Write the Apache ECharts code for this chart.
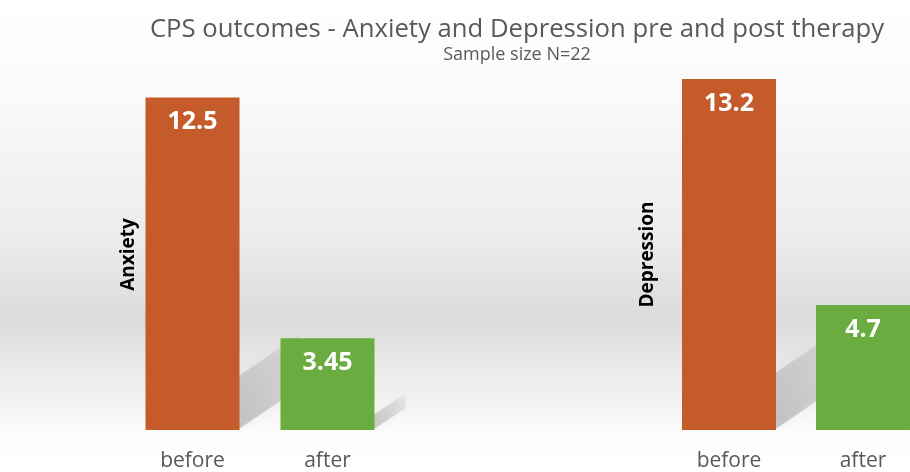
<!DOCTYPE html>
<html>
<head>
<meta charset="utf-8">
<script src="https://cdn.jsdelivr.net/npm/echarts@6/dist/echarts.min.js"></script>
<style>html,body{margin:0;padding:0;background:#fff}#c{width:910px;height:472px}</style>
</head>
<body>
<div id="c"></div>
<script>
const categories = ['before', 'after'];
const groups = ['Anxiety', 'Depression'];
const anxiety = [12.5, 3.45];
const depression = [13.2, 4.7];
const barColors = ['#C55A2A', '#6BAC40'];
const BAR_W = 94;

const chart = echarts.init(document.getElementById('c'));

function mkData(vals) {
  return vals.map((v, i) => ({ value: v, itemStyle: { color: barColors[i] } }));
}

// perspective shadow behind each bar, derived from the bar's own scaled position
function shadowItem(params, api) {
  const idx = api.value(0), v = api.value(1);
  const base = api.coord([idx, 0]);
  const top = api.coord([idx, v]);
  const h = base[1] - top[1];
  const xr = base[0] + BAR_W / 2;
  const yb = base[1];
  const L = 0.12 * h + 20, rise = 0.7 * L, hh = 0.16 * h;
  return {
    type: 'polygon',
    shape: { points: [[xr - 2, yb], [xr - 2, yb - hh], [xr + L, yb - hh - rise], [xr + L, yb - rise]] },
    style: {
      fill: {
        type: 'linear', x: 0, y: 1, x2: 1, y2: 0,
        colorStops: [
          { offset: 0, color: 'rgba(80,80,80,0.30)' },
          { offset: 1, color: 'rgba(80,80,80,0.06)' }
        ]
      },
      shadowBlur: 10, shadowColor: 'rgba(90,90,90,0.25)'
    }
  };
}

const grids = [
  { left: 192.5, width: 135, top: 79, height: 352 },
  { left: 729, width: 134, top: 79, height: 352 }
];
const nameGaps = [54, 72];

const option = {
  backgroundColor: {
    type: 'linear', x: 0, y: 0, x2: 0, y2: 1,
    colorStops: [
      { offset: 0, color: '#ffffff' },
      { offset: 0.2, color: '#fafafa' },
      { offset: 0.5, color: '#ececec' },
      { offset: 0.68, color: '#dbdbdb' },
      { offset: 0.8, color: '#ececec' },
      { offset: 0.92, color: '#fdfdfd' },
      { offset: 1, color: '#ffffff' }
    ]
  },
  title: {
    text: 'CPS outcomes - Anxiety and Depression pre and post therapy',
    subtext: 'Sample size N=22',
    left: 512, textAlign: 'center', top: 12, itemGap: 3,
    textStyle: { fontFamily: 'Open Sans', fontSize: 25.7, fontWeight: 'normal', color: '#595959' },
    subtextStyle: { fontFamily: 'Open Sans', fontSize: 18, color: '#595959' }
  },
  grid: grids,
  xAxis: grids.map((g, i) => ({
    type: 'category', gridIndex: i, data: categories, boundaryGap: false,
    axisLine: { show: false }, axisTick: { show: false },
    axisLabel: { color: '#595959', fontFamily: 'Open Sans', fontSize: 21, margin: 21 }
  })),
  yAxis: grids.map((g, i) => ({
    type: 'value', gridIndex: i, min: 0, max: 13.2,
    name: groups[i], nameLocation: 'middle', nameGap: nameGaps[i],
    nameTextStyle: { fontFamily: 'Open Sans', fontWeight: 'bold', fontSize: 19, color: '#000' },
    axisLine: { show: false }, axisTick: { show: false },
    axisLabel: { show: false }, splitLine: { show: false }
  })),
  series: [anxiety, depression].flatMap((vals, i) => ([
    {
      type: 'custom', xAxisIndex: i, yAxisIndex: i, z: 1, clip: false, silent: true,
      data: vals.map((v, k) => [k, v]),
      renderItem: shadowItem
    },
    {
      type: 'bar', xAxisIndex: i, yAxisIndex: i, z: 2, clip: false, barWidth: BAR_W,
      data: mkData(vals),
      label: {
        show: true, position: 'insideTop', distance: 12,
        color: '#fff', fontFamily: 'Open Sans', fontWeight: 'bold', fontSize: 25
      }
    }
  ]))
};
chart.setOption(option);
</script>
</body>
</html>
